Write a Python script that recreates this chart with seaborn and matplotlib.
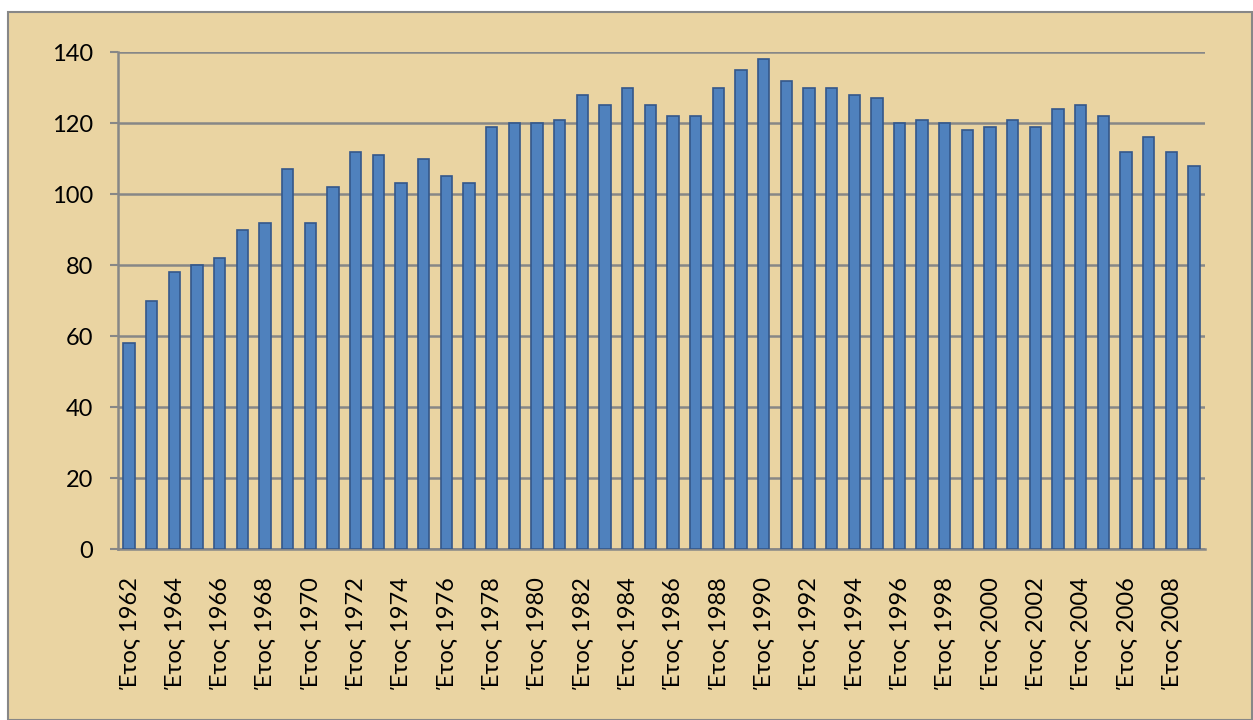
import seaborn as sns
import matplotlib.pyplot as plt
import pandas as pd
from matplotlib.patches import Rectangle

# Data
years = list(range(1962, 2010))
values = [58, 70, 78, 80, 82, 90, 92, 107, 92, 102,
          112, 111, 103, 110, 105, 103, 119, 120, 120, 121,
          128, 125, 130, 125, 122, 122, 130, 135, 138, 132,
          130, 130, 128, 127, 120, 121, 120, 118, 119, 121,
          119, 124, 125, 122, 112, 116, 112, 108]
labels = [f"Έτος {y}" for y in years]

df = pd.DataFrame({"Label": labels, "Value": values})

sns.set_style("white")
plt.rcParams['font.family'] = ['Lato', 'DejaVu Sans']

paper = "#EAD4A2"
grid_col = "#878787"

fig = plt.figure(figsize=(12.53, 7.2), dpi=100)
fig.patch.set_facecolor("white")
fig.patches.append(Rectangle((8 / 1253, 0.0), 1244 / 1253, 708 / 720,
                             transform=fig.transFigure, facecolor=paper,
                             edgecolor=grid_col, linewidth=1.5, zorder=-10))

ax = fig.add_axes([0.094, 0.2375, 0.868, 0.69])
ax.set_facecolor("none")

sns.barplot(data=df, x="Label", y="Value", order=labels, color="#4F81BD",
            width=0.5, edgecolor="#34578A", linewidth=1.2, saturation=1,
            ax=ax, zorder=3)

ax.set_ylim(0, 140)
ax.set_xlim(-0.5, len(years) - 0.5)
ax.set_yticks(range(0, 141, 20))
ax.yaxis.grid(True, color=grid_col, linewidth=1.8)
ax.set_axisbelow(True)

# labels on every other bar, tick marks between categories
ax.set_xticks(range(0, len(years), 2))
ax.set_xticklabels(labels[::2], rotation=90, fontsize=17, color="black")
ax.set_xticks([i - 0.5 for i in range(len(years) + 1)], minor=True)
ax.tick_params(axis="x", which="major", length=0, pad=20)
ax.tick_params(axis="x", which="minor", length=6, width=1.5, color=grid_col,
               direction="out")
ax.tick_params(axis="y", length=6, width=1.5, color=grid_col, labelsize=17,
               labelcolor="black", left=True, pad=12)

for side in ["top", "right"]:
    ax.spines[side].set_visible(False)
for side in ["left", "bottom"]:
    ax.spines[side].set_color(grid_col)
    ax.spines[side].set_linewidth(1.8)

ax.set_xlabel("")
ax.set_ylabel("")

plt.savefig("out.png", dpi=100, facecolor=fig.get_facecolor())
